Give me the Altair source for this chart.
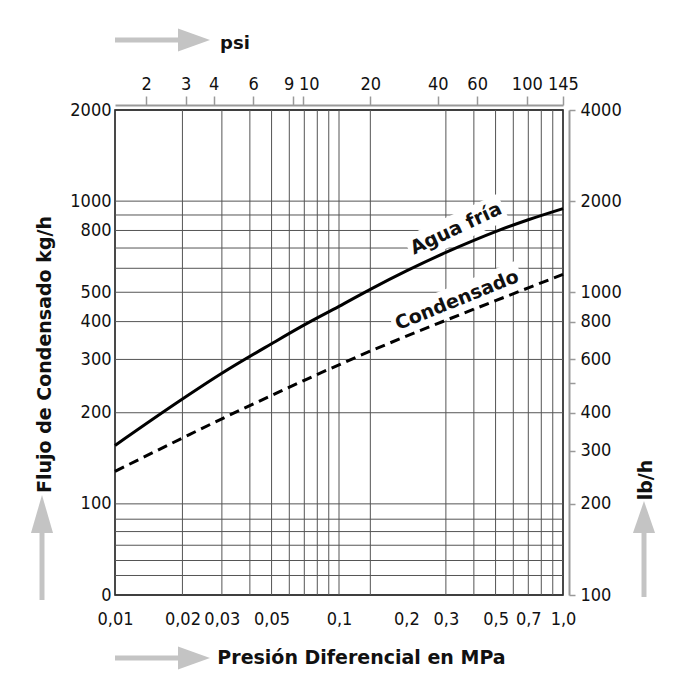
import altair as alt
import pandas as pd

# ---------------- data ----------------
mpa_agua = [0.01, 0.02, 0.03, 0.05, 0.07, 0.1, 0.14, 0.2, 0.3, 0.4, 0.5, 0.7, 1.0]
kgh_agua = [156, 222, 270, 338, 390, 449, 514, 588, 677, 742, 793, 868, 945]

mpa_cond = [0.01, 0.02, 0.03, 0.05, 0.07, 0.1, 0.14, 0.2, 0.3, 0.5, 0.7, 1.0]
kgh_cond = [128, 165, 191, 228, 256, 288, 321, 358, 404, 469, 517, 573]

x_labels = [0.01, 0.02, 0.03, 0.05, 0.1, 0.2, 0.3, 0.5, 0.7, 1.0]
x_grid = [0.01, 0.02, 0.03, 0.04, 0.05, 0.06, 0.07, 0.08, 0.09, 0.1, 0.138,
          0.3, 0.4, 0.5, 0.6, 0.7, 0.8, 0.9, 1.0]
y_labels = [50, 100, 200, 300, 400, 500, 800, 1000, 2000]
y_grid = [58, 65, 73, 81, 89, 100, 200, 300, 400, 500, 600, 700, 800, 900, 1000]
psi_ticks = [2, 3, 4, 6, 9, 10, 20, 40, 60, 100, 145]
lbh_ticks = [100, 200, 300, 400, 500, 600, 800, 1000, 2000, 4000]

labels_txt = ["Agua fría", "Condensado"]
labels_mpa = [0.333, 0.336]
labels_kgh = [812, 471]

# ---------------- styling ----------------
NUM_FONT = "DejaVu Sans Condensed, Liberation Sans"
TITLE_FONT = "DejaVu Sans"
ARROW = "#c4c4c4"
INK = "#111111"
W, H = 448, 485

xs = alt.Scale(type="log", domain=[0.01, 1.0], nice=False)
ys = alt.Scale(type="log", domain=[50, 2000], nice=False)

x_axis = alt.Axis(
    values=x_labels,
    labelExpr="datum.value == 1 ? '1,0' : replace('' + datum.value, '.', ',')",
    grid=False, ticks=False, tickSize=0, domain=False,
    labelPadding=15, labelFont=NUM_FONT, labelFontSize=18, labelColor=INK,
    labelFlush=False, labelOverlap=False,
    title="Presión Diferencial en MPa", titleFont=TITLE_FONT, titleFontWeight="bold",
    titleFontSize=19, titleColor=INK, titleX=246, titleY=62,
    titleAlign="center", titleBaseline="middle",
)
y_axis = alt.Axis(
    values=y_labels,
    labelExpr="datum.value == 50 ? '0' : '' + datum.value",
    grid=False, ticks=False, tickSize=0, domain=False,
    labelPadding=4, labelFont=NUM_FONT, labelFontSize=18, labelColor=INK,
    labelFlush=False, labelOverlap=False,
    title="Flujo de Condensado kg/h", titleFont=TITLE_FONT, titleFontWeight="bold",
    titleFontSize=19, titleColor=INK, titleX=-71, titleY=244, titleAngle=270,
    titleAlign="center", titleBaseline="middle",
)

X = alt.X("p:Q", scale=xs, axis=x_axis)
Y = alt.Y("q:Q", scale=ys, axis=y_axis)

agua = pd.DataFrame({"p": mpa_agua, "q": kgh_agua})
cond = pd.DataFrame({"p": mpa_cond, "q": kgh_cond})
gx = pd.DataFrame({"p": x_grid})
gy = pd.DataFrame({"q": y_grid})
lab = pd.DataFrame({"p": labels_mpa, "q": labels_kgh, "t": labels_txt})
one = pd.DataFrame({"a": [0]})

grid_v = alt.Chart(gx).mark_rule(color="#555555", strokeWidth=1).encode(x=X)
grid_h = alt.Chart(gy).mark_rule(color="#555555", strokeWidth=1).encode(y=Y)

box_agua = alt.Chart(lab.iloc[[0]]).mark_point(
    shape="M-1,-0.27L1,-0.27L1,0.27L-1,0.27Z", size=104 ** 2, filled=True,
    color="white", opacity=1, angle=335, strokeWidth=0,
).encode(x=X, y=Y)
box_cond = alt.Chart(lab.iloc[[1]]).mark_point(
    shape="M-1,-0.21L1,-0.21L1,0.21L-1,0.21Z", size=138 ** 2, filled=True,
    color="white", opacity=1, angle=338, strokeWidth=0,
).encode(x=X, y=Y)

line_agua = alt.Chart(agua).mark_line(
    color="black", strokeWidth=3, interpolate="monotone"
).encode(x=X, y=Y)
line_cond = alt.Chart(cond).mark_line(
    color="black", strokeWidth=3, strokeDash=[10, 6], interpolate="monotone"
).encode(x=X, y=Y)

txt_agua = alt.Chart(lab.iloc[[0]]).mark_text(
    font=TITLE_FONT, fontWeight="bold", fontSize=19, color=INK,
    angle=335, align="center", baseline="middle",
).encode(x=X, y=Y, text="t:N")
txt_cond = alt.Chart(lab.iloc[[1]]).mark_text(
    font=TITLE_FONT, fontWeight="bold", fontSize=19, color=INK,
    angle=338, align="center", baseline="middle",
).encode(x=X, y=Y, text="t:N")

# decorative gray arrows and the unit labels (pixel positions relative to the plot)
RIGHT_HEAD = "M-1,-0.72L1,0L-1,0.72Z"
def h_arrow(y):
    shaft = alt.Chart(one).mark_rule(color=ARROW, strokeWidth=5).encode(
        x=alt.value(0), x2=alt.value(66), y=alt.value(y))
    head = alt.Chart(one).mark_point(shape=RIGHT_HEAD, size=32 ** 2, filled=True,
                                     color=ARROW, opacity=1, strokeWidth=0).encode(
        x=alt.value(79), y=alt.value(y))
    return shaft + head

def v_arrow(x, y_head, head_h, half_w, y_end):
    shaft = alt.Chart(one).mark_rule(color=ARROW, strokeWidth=5).encode(
        x=alt.value(x), y=alt.value(y_head + 10), y2=alt.value(y_end))
    head = alt.Chart(one).mark_point(
        shape=f"M-{half_w},1L0,-1L{half_w},1Z", size=head_h ** 2, filled=True,
        color=ARROW, opacity=1, strokeWidth=0).encode(
        x=alt.value(x), y=alt.value(y_head))
    return shaft + head

arrows = (h_arrow(-70) + h_arrow(548)
          + v_arrow(-73, 404, 38, 0.58, 490)
          + v_arrow(529, 407, 32, 0.69, 487))

psi_txt = alt.Chart(one).mark_text(
    text="psi", font=TITLE_FONT, fontWeight="bold", fontSize=18, color=INK,
    align="center", baseline="middle").encode(x=alt.value(120), y=alt.value(-66))
lbh_txt = alt.Chart(one).mark_text(
    text="lb/h", font=TITLE_FONT, fontWeight="bold", fontSize=19, color=INK,
    angle=270, align="center", baseline="middle").encode(x=alt.value(531), y=alt.value(370))

inner = alt.layer(grid_v, grid_h, box_agua, box_cond, line_agua, line_cond,
                  txt_agua, txt_cond, arrows, psi_txt, lbh_txt)

# secondary axes: psi on top, lb/h on the right
sec = pd.DataFrame({"psi": [2, 145], "lbh": [100, 4000]})
top_axis = alt.Axis(
    orient="top", values=psi_ticks, labelExpr="'' + datum.value",
    labelOffset={"condition": [{"test": "datum.value == 9", "value": -4},
                               {"test": "datum.value == 10", "value": 6}],
                 "value": 0},
    grid=False, domainColor="#999999", domainWidth=2, tickColor="#999999",
    tickWidth=1.5, tickSize=9, offset=5, labelPadding=3,
    labelFont=NUM_FONT, labelFontSize=18, labelColor=INK,
    labelFlush=False, labelOverlap=False, title=None,
)
right_axis = alt.Axis(
    orient="right", values=lbh_ticks,
    labelExpr="datum.value == 500 ? '' : '' + datum.value",
    grid=False, domainColor="#999999", domainWidth=2, tickColor="#999999",
    tickWidth=1.5, tickSize=6, offset=6, labelPadding=5,
    labelFont=NUM_FONT, labelFontSize=18, labelColor=INK,
    labelFlush=False, labelOverlap=False, title=None,
)
sec_layer = alt.Chart(sec).mark_point(opacity=0).encode(
    x=alt.X("psi:Q", scale=alt.Scale(type="log", domain=[1.4504, 145.04], nice=False), axis=top_axis),
    y=alt.Y("lbh:Q", scale=alt.Scale(type="log", domain=[100, 4000], nice=False), axis=right_axis),
)

chart = alt.layer(inner, sec_layer).resolve_scale(
    x="independent", y="independent"
).properties(
    width=W, height=H, autosize="none",
    padding={"left": 107, "top": 102, "right": 115, "bottom": 90},
    background="white",
).configure_view(stroke="black", strokeWidth=1.5)

chart.save("out.html", embed_options={"renderer": "svg", "actions": False})
